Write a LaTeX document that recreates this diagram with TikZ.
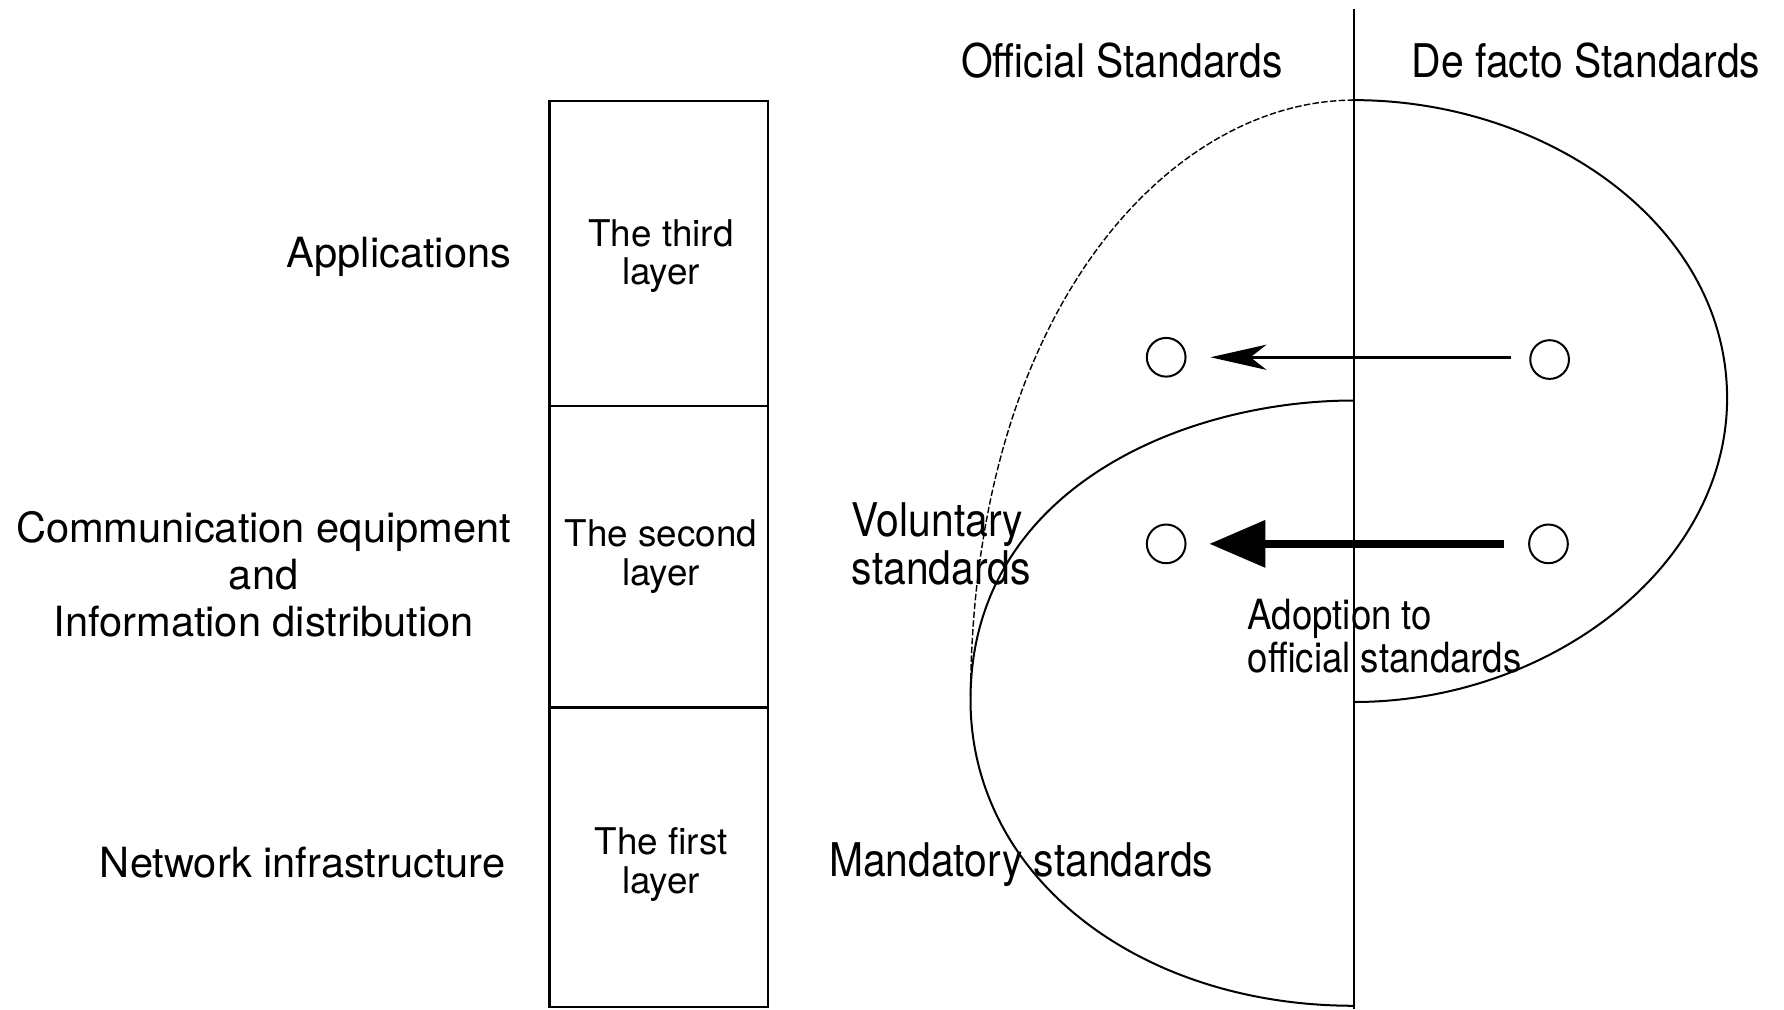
\documentclass[tikz,border=0pt]{standalone}
\usepackage{fontspec}
\setmainfont{TeX Gyre Heros}
\newfontfamily\narrowfont[FakeStretch=0.88]{TeX Gyre Heros}
\usetikzlibrary{arrows.meta,shapes.geometric}

\begin{document}
\begin{tikzpicture}[x=0.01cm,y=-0.01cm,
  sidelabel/.style={font=\fontsize{10.4}{11.7}\selectfont, align=center, inner sep=0pt},
  layerbox/.style={draw, line width=0.6pt, minimum width=1.92cm, inner sep=0pt},
  layertext/.style={align=center, inner sep=0pt, font=\fontsize{9.2}{9.7}\selectfont},
  header/.style={font=\narrowfont\fontsize{11.6}{11}\selectfont, inner sep=0pt},
  note/.style={font=\narrowfont\fontsize{11.6}{10.8}\selectfont, align=left, inner sep=0pt},
  smallnote/.style={font=\narrowfont\fontsize{10.4}{9.7}\selectfont, align=left, inner sep=0pt},
  pt/.style={draw, ellipse, line width=0.5pt, minimum width=0.34cm,
             minimum height=0.34cm, inner sep=0pt},
  lobe/.style={line width=0.5pt},
  faint/.style={line width=0.35pt, dash pattern=on 1.6pt off 0.6pt},
  thinarrow/.style={line width=0.65pt, -{Stealth[length=14pt,width=6.3pt,inset=4pt]}},
  thickarrow/.style={line width=2pt, -{Triangle[length=14pt,width=11.4pt]}}
]
\useasboundingbox (0,0) rectangle (1568,887);

% layer stack
\node[layerbox, minimum height=2.68cm] (third)  at (579,223)   {};
\node[layerbox, minimum height=2.65cm] (second) at (579,489.5) {};
\node[layerbox, minimum height=2.63cm] (first)  at (579,753.5) {};
\node[layertext] (thirdtxt)  at (581,225) {The third\\layer};
\node[layertext] (secondtxt) at (581,489) {The second\\layer};
\node[layertext] (firsttxt)  at (581,760) {The first\\layer};

% what each layer carries
\node[sidelabel, anchor=east] (apps) at (450,226) {Applications};
\node[sidelabel, anchor=east] (comm) at (450,505)
  {Communication equipment\\and\\Information distribution};
\node[sidelabel, anchor=east] (net) at (445,758) {Network infrastructure};

% official / de facto divide
\coordinate (vtop) at (1190,8);
\coordinate (vbot) at (1190,887);
\draw[line width=0.6pt] (vtop) -- (vbot);
\node[header] (official) at (986,53)  {Official Standards};
\node[header] (defacto)  at (1394,53) {De facto Standards};

% de facto region (right half solid, left half faint)
\draw[lobe] (1190,88) .. controls (1360,88) and (1518,198) .. (1518,350)
            .. controls (1518,498) and (1362,617) .. (1190,617);
\draw[faint] (1190,88) .. controls (1030,88) and (855,270) .. (853,612);

% official region
\draw[lobe] (1190,352) .. controls (1040,352) and (853,430) .. (853,615)
            .. controls (853,770) and (1000,884) .. (1190,884);

% standards and their adoption
\node[pt] (ofA) at (1025,314) {};
\node[pt] (dfA) at (1362,316) {};
\node[pt] (ofB) at (1025,478) {};
\node[pt] (dfB) at (1361,478) {};
\draw[thinarrow]
  ([xshift=-0.16cm]dfA.west |- ofA) -- ([xshift=0.21cm]ofA.east);
\draw[thickarrow]
  ([xshift=-0.21cm]dfB.west) -- ([xshift=0.20cm]ofB.east);

\node[note, anchor=west] (vol) at (748,478) {Voluntary\\standards};
\node[smallnote, anchor=west] (adopt) at (1096,559) {Adoption to\\official standards};
\node[note, anchor=west] (mand) at (728,760) {Mandatory standards};
\end{tikzpicture}
\end{document}
